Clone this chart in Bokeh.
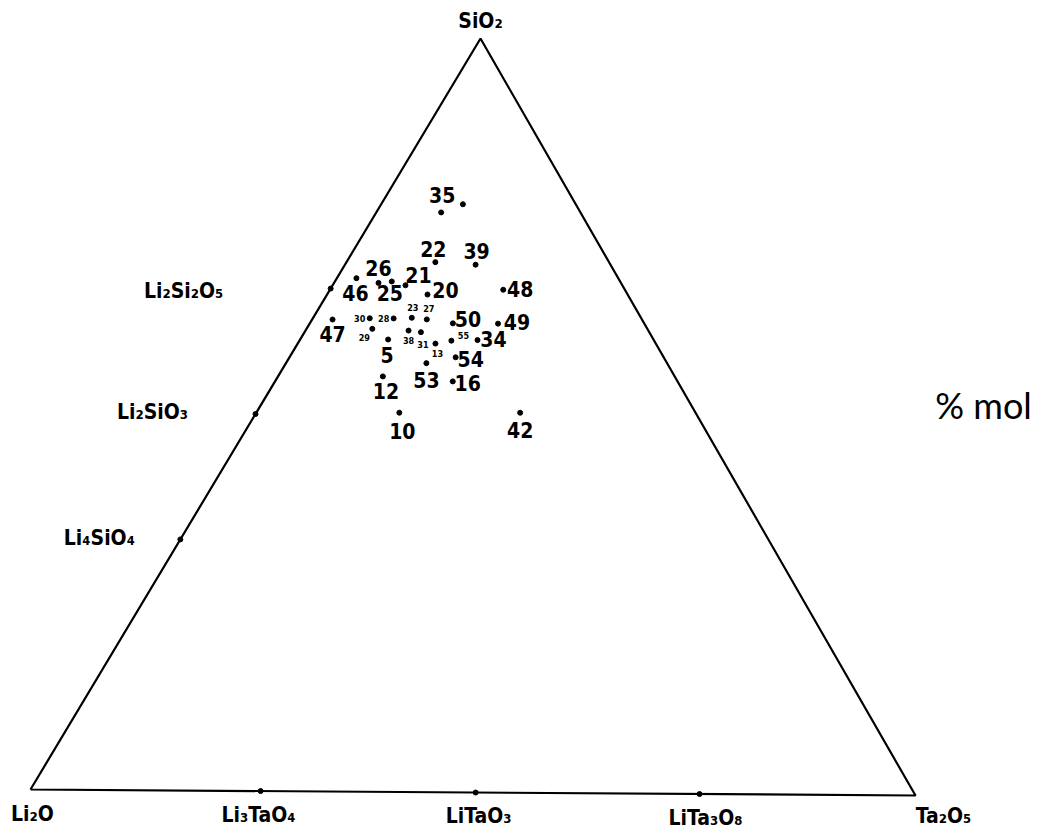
from bokeh.plotting import figure
from bokeh.models import Range1d, ColumnDataSource
from bokeh.core.properties import value
from bokeh.embed import file_html
from bokeh.resources import INLINE

# ---------------- data (mol %) ----------------
pt_labels = ["35", "", "22", "39", "46", "26", "25", "21", "20", "48",
             "47", "30", "28", "23", "27", "50", "49", "29", "5", "38",
             "31", "13", "55", "34", "54", "53", "16", "12", "10", "42"]
sio2 = [76.9, 78.0, 70.3, 70.0, 68.1, 67.5, 67.7, 67.2, 66.0, 66.7,
        62.6, 62.8, 62.8, 62.9, 62.7, 62.2, 62.2, 61.4, 60.0, 61.2,
        61.0, 59.5, 59.9, 60.0, 57.7, 56.9, 54.5, 55.1, 50.3, 50.4]
ta2o5 = [7.3, 9.2, 10.0, 14.7, 2.2, 5.0, 6.4, 8.2, 11.3, 19.5,
         2.3, 6.4, 9.1, 11.1, 12.9, 16.1, 21.2, 7.4, 9.9, 11.6,
         13.1, 15.5, 17.1, 20.0, 18.7, 15.8, 20.0, 11.8, 16.1, 29.7]
li2o = [15.8, 12.8, 19.7, 15.3, 29.7, 27.5, 25.9, 24.6, 22.7, 13.8,
        35.1, 30.8, 28.1, 26.0, 24.4, 21.7, 16.6, 31.2, 30.1, 27.2,
        25.9, 25.0, 23.0, 20.0, 23.6, 27.3, 25.5, 33.1, 33.6, 19.9]
small_labels = ["30", "28", "23", "27", "29", "38", "31", "13", "55"]

# compounds (edge points and vertices)
cmp_names = ["SiO₂", "Li₂Si₂O₅", "Li₂SiO₃", "Li₄SiO₄", "Li₂O", "Li₃TaO₄", "LiTaO₃", "LiTa₃O₈", "Ta₂O₅"]
cmp_sio2 = [100.0, 66.7, 50.0, 33.3, 0.0, 0.0, 0.0, 0.0, 0.0]
cmp_ta2o5 = [0.0, 0.0, 0.0, 0.0, 0.0, 26.0, 50.3, 75.6, 100.0]
cmp_li2o = [0.0, 33.3, 50.0, 66.7, 100.0, 74.0, 49.7, 24.4, 0.0]
cmp_is_vertex = [True, False, False, False, True, False, False, False, True]

unit_label = "% mol"

# ---------------- layout ----------------
# picture-pixel positions of the three corners of the diagram
V_LI2O = (30.0, 789.0)
V_TA2O5 = (915.0, 795.0)
V_SIO2 = (480.0, 38.0)

# label offsets from the point (screen px, +y is down)
pt_off = {
    "35": (1, -17), "": (0, 0), "22": (-2, -13), "39": (1, -14), "46": (-1, 15),
    "26": (0, -15), "25": (-2, 12), "21": (13, -10), "20": (18, -5), "48": (17, -1),
    "47": (0, 14), "30": (-10, 0), "28": (-10, 0), "23": (1, -10), "27": (2, -11),
    "50": (15, -4), "49": (19, -2), "29": (-8, 9), "5": (-1, 16), "38": (0, 10),
    "31": (2, 12), "13": (2, 10), "55": (12, -5), "34": (16, -1), "54": (15, 2),
    "53": (0, 17), "16": (15, 2), "12": (3, 15), "10": (3, 18), "42": (0, 17),
}
cmp_off = [(0, -18), (-147, 2), (-103, -2), (-81, -1), (2, 24),
           (-2, 24), (3, 23), (6, 24), (28, 20)]


def to_xy(li, ta, si):
    t = li + ta + si
    x = (li * V_LI2O[0] + ta * V_TA2O5[0] + si * V_SIO2[0]) / t
    y = (li * V_LI2O[1] + ta * V_TA2O5[1] + si * V_SIO2[1]) / t
    return x, y


W, H = 1031, 829
p = figure(width=W, height=H, x_range=Range1d(0, W), y_range=Range1d(H, 0),
           output_backend="svg", toolbar_location=None,
           x_axis_location=None, y_axis_location=None, min_border=0)
p.outline_line_color = None
p.xgrid.visible = False
p.ygrid.visible = False

# triangle frame
vx, vy = [], []
for li, ta, si in [(100, 0, 0), (0, 100, 0), (0, 0, 100), (100, 0, 0)]:
    x, y = to_xy(li, ta, si)
    vx.append(x)
    vy.append(y)
p.line(vx, vy, line_color="black", line_width=2.2)

FONT = value("DejaVu Sans Condensed")

# compounds
cx, cy, lx, ly = [], [], [], []
for i in range(len(cmp_names)):
    x, y = to_xy(cmp_li2o[i], cmp_ta2o5[i], cmp_sio2[i])
    if not cmp_is_vertex[i]:
        cx.append(x)
        cy.append(y)
    lx.append(x + cmp_off[i][0])
    ly.append(y + cmp_off[i][1])
p.scatter(cx, cy, size=5, color="black")
p.text(x=lx, y=ly, text=cmp_names, text_font=FONT, text_font_style="bold",
       text_font_size="21px", text_align="center", text_baseline="middle",
       text_color="black")

# sample points
px, py, tx, ty, tt, fs = [], [], [], [], [], []
for lab, li, ta, si in zip(pt_labels, li2o, ta2o5, sio2):
    x, y = to_xy(li, ta, si)
    px.append(x)
    py.append(y)
    if lab:
        dx, dy = pt_off[lab]
        tx.append(x + dx)
        ty.append(y + dy)
        tt.append(lab)
        fs.append("9px" if lab in small_labels else "21px")
p.scatter(px, py, size=5, color="black")
src = ColumnDataSource(dict(x=tx, y=ty, text=tt, fs=fs))
p.text(x="x", y="y", text="text", source=src, text_font=FONT, text_font_style="bold",
       text_font_size="fs", text_align="center", text_baseline="middle",
       text_color="black")

# unit label
p.text(x=[983], y=[404], text=[unit_label], text_font=value("Lato"),
       text_font_size="36px", text_align="center", text_baseline="middle",
       text_color="black")

open("out.html", "w").write(file_html(p, INLINE))
